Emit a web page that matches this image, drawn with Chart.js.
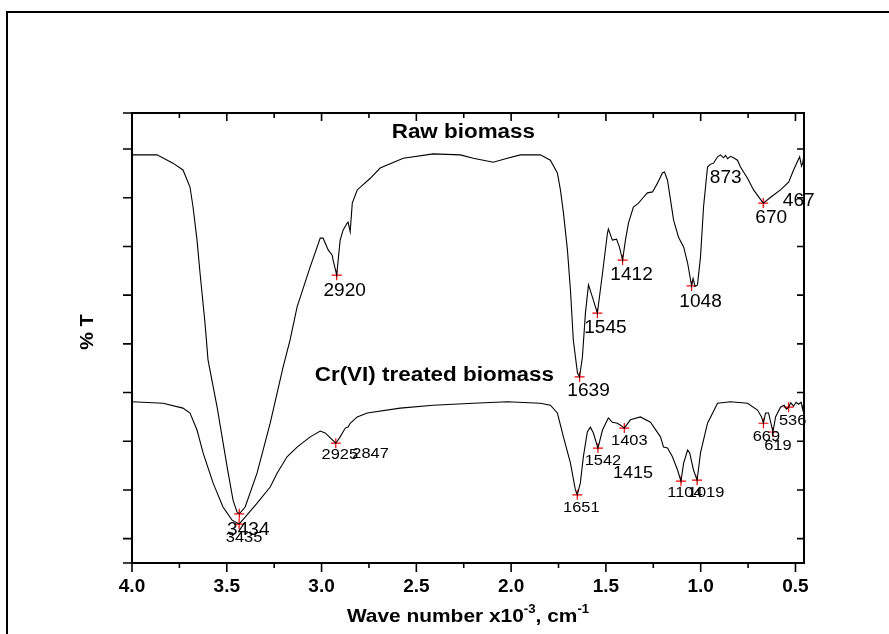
<!DOCTYPE html>
<html lang="en">
<head>
    <meta charset="utf-8"/>
    <script src="https://cdn.jsdelivr.net/npm/chart.js@4.4.1/dist/chart.umd.min.js"></script>
    <style>
        body { margin: 0; background: #fff; }
        #sheet { position: absolute; left: 6px; top: 11px; width: 1000px; height: 1000px;
                 border-top: 2px solid #000; border-left: 2px solid #000; }
        #ftir { position: absolute; left: 0; top: 0; }
    </style>
</head>
<body>
    <div id="sheet"></div>
    <canvas id="ftir" width="889" height="634"></canvas>
    <script>
        // FTIR spectra, wave number in cm-1, transmittance in arbitrary % T units
        const rawWn = [4000, 3868, 3784, 3731, 3694, 3678, 3657, 3641, 3615, 3599, 3551, 3498, 3467, 3446, 3434,
            3403, 3340, 3271, 3203, 3166, 3129, 3060, 3007, 2992, 2965, 2944, 2939, 2920, 2902, 2886, 2865, 2860,
            2849, 2838, 2812, 2743, 2691, 2569, 2411, 2268, 2200, 2094, 2020, 1951, 1846, 1793, 1756, 1740, 1724,
            1703, 1687, 1672, 1650, 1639, 1624, 1608, 1592, 1571, 1545, 1518, 1492, 1487, 1466, 1444, 1429, 1412,
            1397, 1381, 1355, 1328, 1302, 1281, 1254, 1228, 1202, 1191, 1175, 1159, 1143, 1117, 1090, 1069, 1048,
            1040, 1030, 1017, 1001, 985, 964, 948, 932, 911, 895, 880, 869, 858, 843, 827, 806, 790, 753, 721, 670,
            631, 579, 536, 510, 478, 468, 462, 455];
        const rawT = [88.8, 88.8, 87.1, 85.7, 82.2, 78.1, 71.3, 64.5, 54.3, 46.7, 37.0, 24.7, 17.9, 15.5, 15.1,
            16.5, 23.5, 33.7, 45.2, 50.8, 57.6, 65.8, 71.7, 71.7, 69.3, 68.2, 67.2, 64.1, 71.3, 73.4, 74.8, 75.0,
            73.0, 78.9, 81.6, 84.0, 86.1, 88.1, 89.0, 88.8, 88.1, 87.3, 88.1, 88.8, 88.8, 87.7, 85.1, 81.6, 76.9,
            69.3, 61.0, 50.8, 44.0, 43.2, 47.3, 56.3, 62.1, 59.6, 56.3, 64.5, 72.7, 73.6, 71.3, 71.5, 69.9, 67.2,
            71.3, 74.8, 78.1, 78.9, 80.1, 81.0, 81.2, 83.0, 85.1, 85.3, 83.6, 79.5, 75.4, 71.9, 69.9, 66.6, 61.9,
            63.4, 61.8, 62.1, 67.8, 78.1, 86.3, 86.9, 87.1, 88.4, 88.8, 88.2, 88.7, 88.0, 88.5, 88.2, 87.7, 86.3,
            84.0, 81.6, 78.9, 80.1, 81.6, 83.2, 85.7, 88.4, 86.5, 87.1, 88.8];

        const crWn = [4000, 3836, 3731, 3694, 3657, 3625, 3572, 3520, 3472, 3435, 3403, 3340, 3271, 3234, 3182,
            3129, 3060, 3007, 2981, 2954, 2925, 2902, 2875, 2860, 2849, 2812, 2759, 2585, 2411, 2200, 2020, 1846,
            1793, 1756, 1724, 1687, 1661, 1651, 1635, 1619, 1598, 1582, 1566, 1542, 1518, 1492, 1487, 1466, 1439,
            1423, 1403, 1371, 1318, 1265, 1212, 1196, 1175, 1149, 1122, 1104, 1090, 1069, 1058, 1038, 1019, 1001,
            964, 911, 843, 753, 700, 679, 669, 658, 642, 619, 605, 579, 560, 548, 536, 525, 510, 497, 484, 470, 462,
            455];
        const crT = [38.1, 37.8, 36.8, 35.8, 32.3, 27.6, 21.4, 16.5, 13.8, 13.0, 14.4, 17.3, 20.6, 23.5, 26.8,
            28.8, 30.9, 32.1, 31.7, 30.7, 29.6, 30.9, 32.7, 32.9, 33.7, 35.0, 35.8, 36.8, 37.4, 37.8, 38.1, 37.8,
            37.4, 35.8, 30.9, 25.5, 20.0, 19.0, 21.4, 26.8, 31.9, 32.9, 31.7, 28.6, 32.3, 34.4, 34.8, 33.9, 33.7,
            33.3, 32.7, 34.4, 35.0, 33.9, 30.9, 28.8, 28.6, 26.8, 24.1, 21.8, 25.5, 28.2, 27.6, 24.1, 22.0, 27.6,
            33.7, 37.8, 38.1, 37.8, 36.4, 35.0, 33.7, 35.8, 35.8, 31.9, 35.0, 37.0, 37.4, 36.6, 37.0, 37.9, 37.2,
            38.0, 37.6, 38.0, 36.6, 38.1];

        // picked peaks (red crosses)
        const rawPeakWn = [3434, 2920, 1639, 1545, 1412, 1048, 670];
        const rawPeakT = [15.1, 64.1, 43.2, 56.3, 67.2, 61.9, 78.9];
        const crPeakWn = [3435, 2925, 1651, 1542, 1403, 1104, 1019, 669, 619, 536];
        const crPeakT = [13.0, 29.6, 19.0, 28.6, 32.7, 21.8, 22.0, 33.7, 31.9, 37.0];
        // labelled bands that have no cross
        const rawBandWn = [873, 467];
        const rawBandT = [88.1, 87.1];
        const crBandWn = [2847, 1415];
        const crBandT = [33.7, 33.3];

        const xTitle = ['Wave number x10', '-3', ', cm', '-1'];
        const yTitle = '% T';
        const curveNames = ['Raw biomass', 'Cr(VI) treated biomass'];

        // label placement, pixels from the anchor point to the text centre
        const rawPeakOff = [[9, 16], [8, 16], [9, 14], [8, 15], [9, 15], [9, 16], [8, 15]];
        const rawBandOff = [[1, 20], [-3, 38]];
        const crPeakOff = [[5, 14], [4, 12], [4, 13], [5, 13], [5, 13], [4, 12], [9, 13], [3, 13], [5, 14], [4, 14]];
        const crBandOff = [[20, 30], [11, 48]];

        const FONT = "'Liberation Sans', Arial, sans-serif";
        const pts = (wn, t) => wn.map((w, i) => ({x: w / 1000, y: t[i]}));

        function text(ctx, s, x, y, size, bold, sx) {
            ctx.save();
            ctx.font = (bold ? 'bold ' : '') + size + 'px ' + FONT;
            ctx.textAlign = 'center';
            ctx.textBaseline = 'middle';
            ctx.translate(x, y);
            ctx.scale(sx || 1, 1);
            ctx.fillText(s, 0, 0);
            ctx.restore();
        }

        const frame = {
            id: 'frame',
            afterDatasetsDraw(chart) {
                const {ctx, chartArea: a, scales: {x, y}} = chart;
                ctx.save();
                ctx.strokeStyle = '#000';
                ctx.lineWidth = 1.6;
                ctx.beginPath();
                x.ticks.forEach(t => {
                    const px = x.getPixelForValue(t.value);
                    const major = Math.abs(t.value * 2 - Math.round(t.value * 2)) < 1e-6;
                    ctx.moveTo(px, a.bottom); ctx.lineTo(px, a.bottom + (major ? 9 : 5));
                    ctx.moveTo(px, a.top); ctx.lineTo(px, a.top + (major ? 8 : 5));
                });
                y.ticks.forEach(t => {
                    const py = y.getPixelForValue(t.value);
                    ctx.moveTo(a.left, py); ctx.lineTo(a.left - 9, py);
                    ctx.moveTo(a.right, py); ctx.lineTo(a.right - 7, py);
                });
                ctx.stroke();
                ctx.lineWidth = 2;
                ctx.strokeRect(a.left, a.top, a.width, a.height);
                ctx.restore();
            }
        };

        const labels = {
            id: 'labels',
            afterDraw(chart) {
                const {ctx, chartArea: a, scales: {x, y}} = chart;
                ctx.save();
                ctx.fillStyle = '#000';
                const put = (wn, t, off, size) => wn.forEach((w, i) => {
                    text(ctx, String(w), x.getPixelForValue(w / 1000) + off[i][0],
                        y.getPixelForValue(t[i]) + off[i][1], size, false, 1.06);
                });
                put(rawPeakWn, rawPeakT, rawPeakOff, 18);
                put(rawBandWn, rawBandT, rawBandOff, 18);
                put(crPeakWn, crPeakT, crPeakOff, 15.5);
                put(crBandWn.slice(0, 1), crBandT, crBandOff, 15.5);
                put(crBandWn.slice(1), crBandT.slice(1), crBandOff.slice(1), 17);

                text(ctx, curveNames[0], x.getPixelForValue(2.252), y.getPixelForValue(93.3), 19.5, true, 1.15);
                text(ctx, curveNames[1], x.getPixelForValue(2.405), y.getPixelForValue(43.4), 19.5, true, 1.15);

                // y title
                ctx.save();
                ctx.translate(a.left - 44, (a.top + a.bottom) / 2 - 6);
                ctx.rotate(-Math.PI / 2);
                text(ctx, yTitle, 0, 0, 19, true, 1.05);
                ctx.restore();

                // x title with superscripts
                const big = 'bold 19px ' + FONT, small = 'bold 12px ' + FONT, sx = 1.1;
                ctx.font = big;
                const w0 = ctx.measureText(xTitle[0]).width, w2 = ctx.measureText(xTitle[2]).width;
                ctx.font = small;
                const w1 = ctx.measureText(xTitle[1]).width, w3 = ctx.measureText(xTitle[3]).width;
                const total = (w0 + w1 + w2 + w3) * sx;
                const base = a.bottom + 59;
                ctx.save();
                ctx.translate((a.left + a.right) / 2 - total / 2, base);
                ctx.scale(sx, 1);
                ctx.textAlign = 'left';
                ctx.textBaseline = 'alphabetic';
                let cx = 0;
                ctx.font = big; ctx.fillText(xTitle[0], cx, 0); cx += w0;
                ctx.font = small; ctx.fillText(xTitle[1], cx, -9); cx += w1;
                ctx.font = big; ctx.fillText(xTitle[2], cx, 0); cx += w2;
                ctx.font = small; ctx.fillText(xTitle[3], cx, -9);
                ctx.restore();
                ctx.restore();
            }
        };

        const line = (wn, t) => ({
            data: pts(wn, t), showLine: true, borderColor: '#000', borderWidth: 1.1,
            pointRadius: 0, tension: 0
        });
        const cross = (wn, t) => ({
            data: pts(wn, t), showLine: false, pointStyle: 'cross', pointRadius: 5,
            borderColor: '#ff0000', borderWidth: 1.2, backgroundColor: '#ff0000'
        });

        new Chart(document.getElementById('ftir'), {
            type: 'scatter',
            data: {
                datasets: [
                    line(rawWn, rawT),
                    line(crWn, crT),
                    cross(rawPeakWn, rawPeakT),
                    cross(crPeakWn, crPeakT)
                ]
            },
            options: {
                responsive: false,
                animation: false,
                devicePixelRatio: 1,
                layout: {padding: {top: 113, right: 85, left: 0, bottom: 0}},
                plugins: {legend: {display: false}, tooltip: {enabled: false}},
                scales: {
                    x: {
                        type: 'linear', position: 'bottom', reverse: true, min: 0.455, max: 4.0,
                        grid: {display: false}, border: {display: false},
                        ticks: {
                            stepSize: 0.25, includeBounds: false, autoSkip: false, maxRotation: 0,
                            padding: 4, color: '#000', font: {family: FONT, size: 19, weight: 'bold'},
                            callback: v => Math.abs(v * 2 - Math.round(v * 2)) < 1e-6 ? v.toFixed(1) : ''
                        },
                        afterFit: s => { s.height = 71; }
                    },
                    y: {
                        type: 'linear', position: 'left', min: 5, max: 97.4,
                        grid: {display: false}, border: {display: false},
                        ticks: {stepSize: 10, display: false},
                        afterFit: s => { s.width = 132; }
                    }
                }
            },
            plugins: [frame, labels]
        });
    </script>
</body>
</html>
